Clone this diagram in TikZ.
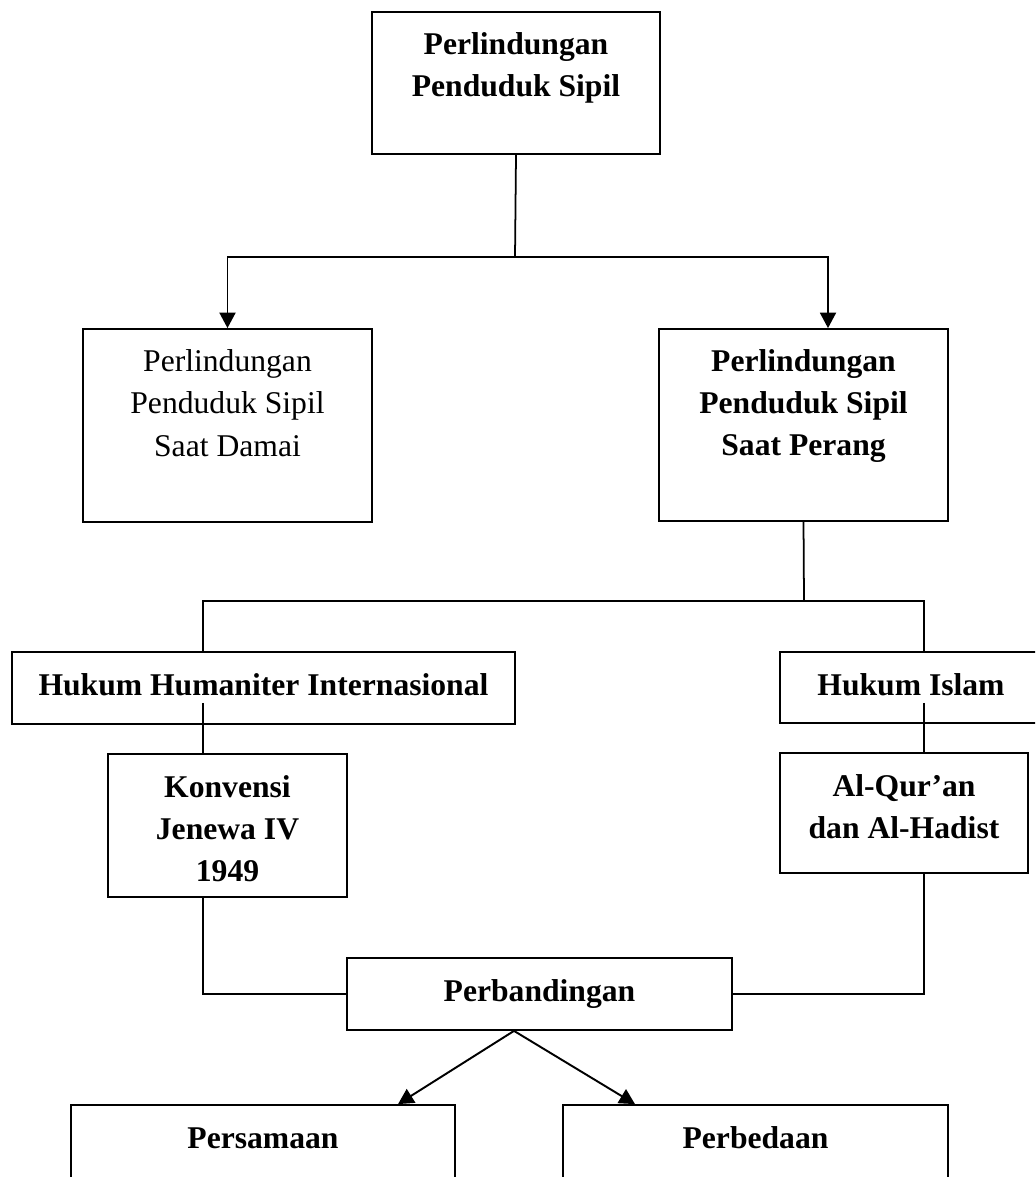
\documentclass[tikz,border=0pt]{standalone}
\usepackage{fontspec}
\setmainfont{Liberation Serif}
\usetikzlibrary{arrows.meta, calc}
\tikzset{
  box/.style       = {draw, line width=1pt, fill=white, inner sep=0pt,
                      font=\fontsize{18}{23.9}\selectfont},
  strong/.style    = {font=\fontsize{18}{23.9}\selectfont\bfseries},
  flow/.style      = {-, line width=1pt},
  arrowflow/.style = {-{Triangle[length=3.1mm,width=3.2mm]}, line width=1.1pt},
}
% box text: width, height, lines (first baseline fixed below the top edge)
\newcommand{\boxtext}[3]{\parbox[c][#2][t]{#1}{\centering\rule{0pt}{8.6mm}#3}}

\begin{document}
\begin{tikzpicture}[x=0.2mm, y=-0.2mm]
\clip (0,0) rectangle (1035,1177);
\fill[white] (0,0) rectangle (1035,1177);

% ===== Level 1: root =====
\node[box, strong] (top) at (516,83)
  {\boxtext{57.6mm}{28.4mm}{Perlindungan\\Penduduk Sipil}};

% ===== Level 2: peace / war =====
\node[box] (peace) at (227.5,425.5)
  {\boxtext{57.8mm}{38.6mm}{Perlindungan\\Penduduk Sipil\\Saat Damai}};
\node[box, strong] (war) at (803.5,425)
  {\boxtext{57.8mm}{38.4mm}{Perlindungan\\Penduduk Sipil\\Saat Perang}};

% ===== Level 3: the two laws =====
\node[box, strong] (hhi) at (263.5,688)
  {\boxtext{100.6mm}{14.4mm}{Hukum Humaniter Internasional}};
\node[box, strong] (his) at (911,687.5)
  {\boxtext{52.4mm}{14.2mm}{Hukum Islam}};

% ===== Level 4: sources =====
\node[box, strong] (konv) at (227.5,825.5)
  {\boxtext{47.8mm}{28.6mm}{Konvensi\\Jenewa IV\\1949}};
\node[box, strong] (quran) at (904,813)
  {\boxtext{49.6mm}{24mm}{Al-Qur’an\\dan Al-Hadist}};

% ===== Level 5: comparison =====
\node[box, strong] (cmp) at (539.5,994)
  {\boxtext{77mm}{14.4mm}{Perbandingan}};
\node[box, strong] (same) at (263,1155)
  {\boxtext{76.8mm}{20mm}{Persamaan}};
\node[box, strong] (diff) at (755.5,1155)
  {\boxtext{77mm}{20mm}{Perbedaan}};

% ===== Connectors =====
\coordinate (split1) at (515,257);
\coordinate (split2) at (804,601);
\coordinate (hhiin) at ([xshift=-12.1mm,yshift=4.4mm]hhi.south);
\coordinate (hisin) at ([xshift=2.6mm,yshift=4.2mm]his.south);

\draw[flow] (top.south) -- (split1);
\draw[arrowflow] (split1) -| (peace.north);
\draw[arrowflow] (split1) -| ([xshift=4.9mm]war.north);

\draw[flow] (war.south) -- (split2);
\draw[flow] (split2) -| ([xshift=-12.1mm]hhi.north);
\draw[flow] (split2) -| ([xshift=2.6mm]his.north);

\draw[flow] (hhiin) -- (hhiin |- konv.north);
\draw[flow] (hisin) -- (hisin |- quran.north);

\draw[flow] (konv.south -| hhiin) |- (cmp.west);
\draw[flow] (quran.south -| hisin) |- (cmp.east);

\draw[arrowflow] ([xshift=-5.1mm]cmp.south) -- ([xshift=27mm]same.north);
\draw[arrowflow] ([xshift=-5.1mm]cmp.south) -- ([xshift=-24.1mm]diff.north);

\end{tikzpicture}
\end{document}
